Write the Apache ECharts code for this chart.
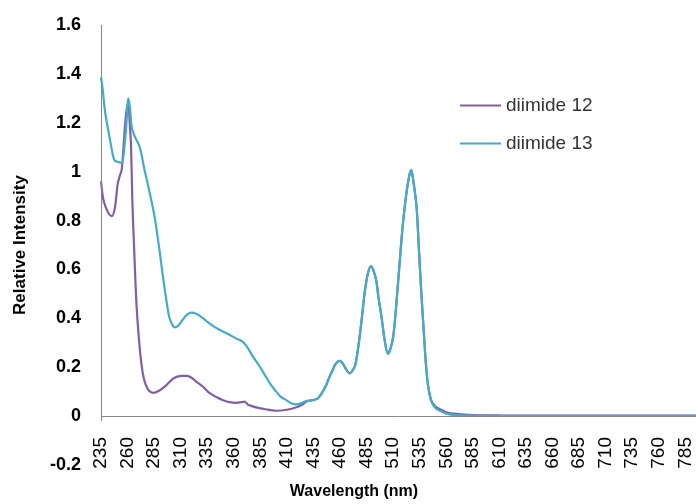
<!DOCTYPE html>
<html>
<head>
<meta charset="utf-8">
<script src="https://cdn.jsdelivr.net/npm/echarts@6/dist/echarts.min.js"></script>
<style>
html,body{margin:0;padding:0;background:#fff;}
#chart{width:696px;height:504px;}
</style>
</head>
<body>
<div id="chart"></div>
<script>
// Wavelength (nm) and relative intensity
var wl12 = [235, 237, 239, 242, 245, 248, 250.7, 252.5, 254.4, 256, 257.5, 259, 260.7, 262, 263.2, 264.5, 266.5, 268.5, 271, 273, 275, 277, 280, 284, 290, 296, 303, 310, 316, 321, 325, 331, 337, 344, 350, 356, 362, 367, 370, 374, 381, 390, 400, 410, 419, 425];
var int12 = [0.96, 0.89, 0.86, 0.83, 0.818, 0.85, 0.95, 0.98, 1.006, 1.09, 1.183, 1.25, 1.278, 1.2, 1.115, 0.88, 0.65, 0.45, 0.3, 0.215, 0.16, 0.13, 0.105, 0.095, 0.105, 0.125, 0.154, 0.165, 0.165, 0.155, 0.14, 0.12, 0.095, 0.077, 0.065, 0.057, 0.054, 0.057, 0.059, 0.045, 0.036, 0.028, 0.022, 0.026, 0.036, 0.048];

var wl13 = [235, 236.5, 239, 243.5, 247.5, 251, 254.5, 257, 259, 260.5, 262, 264, 267, 271.5, 276, 279, 283, 286, 290, 293, 296.5, 299, 301.5, 304.5, 308, 312, 316, 320, 324, 328, 334, 340, 347, 355, 362, 368.5, 373, 378, 384, 389, 394, 399, 404, 409.5, 414, 419, 423];
var int13 = [1.386, 1.34, 1.24, 1.13, 1.047, 1.04, 1.036, 1.1, 1.2, 1.3, 1.27, 1.18, 1.142, 1.1, 1.006, 0.95, 0.87, 0.8, 0.68, 0.58, 0.474, 0.41, 0.379, 0.363, 0.372, 0.395, 0.415, 0.423, 0.42, 0.41, 0.39, 0.37, 0.352, 0.335, 0.318, 0.304, 0.28, 0.243, 0.205, 0.17, 0.134, 0.105, 0.08, 0.065, 0.053, 0.048, 0.052];

// region where both spectra coincide
var wlShared = [428, 431, 435, 439, 443, 447, 450, 453, 456, 459.6, 462, 464, 467, 469, 471, 474, 476, 478.4, 481, 483, 486, 489, 491, 494, 496, 499, 502, 505, 507, 510, 513, 516, 519, 522, 525, 527, 529, 532, 534, 536.5, 539, 541, 543, 546, 550, 554, 560, 569, 585, 610, 700, 795];
var intShared12 = [0.059, 0.063, 0.066, 0.072, 0.095, 0.127, 0.16, 0.188, 0.215, 0.226, 0.218, 0.204, 0.183, 0.175, 0.182, 0.205, 0.25, 0.324, 0.42, 0.5, 0.58, 0.613, 0.6, 0.556, 0.49, 0.406, 0.31, 0.256, 0.27, 0.324, 0.46, 0.624, 0.78, 0.897, 0.98, 1.006, 0.96, 0.856, 0.7, 0.502, 0.33, 0.202, 0.12, 0.062, 0.038, 0.028, 0.016, 0.009, 0.004, 0.003, 0.002, 0.002];
var intShared13 = [0.062, 0.063, 0.066, 0.072, 0.095, 0.127, 0.16, 0.188, 0.215, 0.226, 0.218, 0.204, 0.183, 0.175, 0.182, 0.205, 0.25, 0.324, 0.42, 0.5, 0.58, 0.613, 0.6, 0.556, 0.49, 0.406, 0.31, 0.256, 0.27, 0.324, 0.46, 0.624, 0.78, 0.897, 0.98, 1.006, 0.96, 0.856, 0.7, 0.502, 0.33, 0.202, 0.12, 0.059, 0.032, 0.022, 0.01, 0.004, 0.002, 0.001, 0.001, 0.001];

var seriesNames = ['diimide 12', 'diimide 13'];
var yTicks = [-0.2, 0, 0.2, 0.4, 0.6, 0.8, 1, 1.2, 1.4, 1.6];
var xMin = 235, xMax = 795, xStep = 25;

function pairs(xs, ys) {
  var out = [];
  for (var i = 0; i < xs.length; i++) out.push([xs[i], ys[i]]);
  return out;
}
var d12 = pairs(wl12, int12).concat(pairs(wlShared, intShared12));
var d13 = pairs(wl13, int13).concat(pairs(wlShared, intShared13));

var chart = echarts.init(document.getElementById('chart'), null, {renderer: 'canvas'});
var axisGrey = '#868686';
chart.setOption({
  animation: false,
  backgroundColor: '#ffffff',
  grid: {left: 101, right: 0, top: 25, bottom: 39, containLabel: false},
  legend: {
    orient: 'vertical',
    left: 460,
    top: 96,
    padding: 0,
    itemWidth: 41,
    itemHeight: 2,
    itemGap: 19,
    icon: 'rect',
    textStyle: {fontFamily: 'Liberation Sans', fontSize: 19, color: '#333333'},
    data: seriesNames
  },
  xAxis: {
    type: 'value',
    min: xMin,
    max: xMax,
    interval: xStep,
    axisLine: {show: false},
    axisTick: {show: false},
    splitLine: {show: false},
    axisLabel: {
      rotate: 90,
      margin: -28,
      hideOverlap: false,
      color: '#000000',
      fontFamily: 'Liberation Sans',
      fontSize: 19,
      formatter: function (v) { return ((v - xMin) % xStep === 0) ? String(v) : ''; }
    }
  },
  yAxis: {
    type: 'value',
    min: yTicks[0],
    max: yTicks[yTicks.length - 1],
    interval: 0.2,
    name: 'Relative Intensity',
    nameLocation: 'middle',
    nameRotate: 90,
    nameGap: 72,
    nameTextStyle: {fontFamily: 'Liberation Sans', fontSize: 17, fontWeight: 'bold', color: '#000000'},
    axisLine: {show: false},
    axisTick: {show: false},
    splitLine: {show: false},
    axisLabel: {
      margin: 20,
      color: '#000000',
      fontFamily: 'Liberation Sans',
      fontSize: 18,
      fontWeight: 'bold',
      formatter: function (v) { return String(Math.round(v * 10) / 10); }
    }
  },
  graphic: [{
    type: 'text',
    x: 354,
    y: 492,
    style: {
      text: 'Wavelength (nm)',
      align: 'center',
      verticalAlign: 'middle',
      fontFamily: 'Liberation Sans',
      fontSize: 16,
      fontWeight: 'bold',
      fill: '#000000'
    }
  }],
  series: [
    {
      name: seriesNames[0],
      type: 'line',
      data: d12,
      symbol: 'none',
      smooth: 0.3,
      lineStyle: {color: '#7f5fa8', width: 2.2},
      itemStyle: {color: '#7f5fa8'},
      markLine: {
        silent: true,
        symbol: 'none',
        label: {show: false},
        lineStyle: {color: axisGrey, width: 1, type: 'solid'},
        data: [
          {yAxis: 0},
          [{coord: [xMin, -0.02]}, {coord: [xMin, 1.6]}]
        ]
      }
    },
    {
      name: seriesNames[1],
      type: 'line',
      data: d13,
      symbol: 'none',
      smooth: 0.3,
      lineStyle: {color: '#45abc6', width: 2.2},
      itemStyle: {color: '#45abc6'}
    }
  ]
});
</script>
</body>
</html>
